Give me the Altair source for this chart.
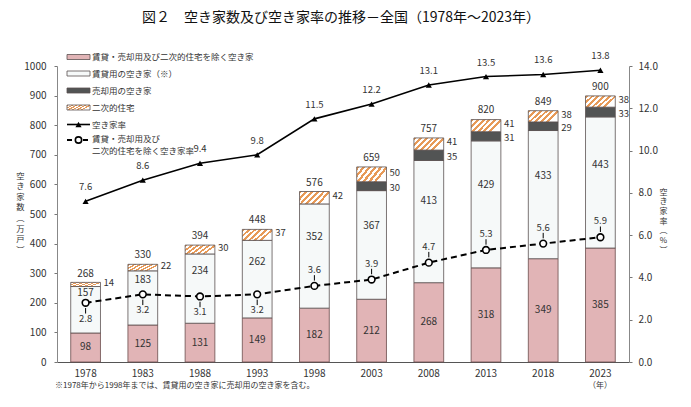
import altair as alt
import pandas as pd

# ---------------- data ----------------
years = ["1978", "1983", "1988", "1993", "1998", "2003", "2008", "2013", "2018", "2023"]
excl_homes = [98, 125, 131, 149, 182, 212, 268, 318, 349, 385]          # 賃貸・売却用及び二次的住宅を除く空き家
rental_homes = [157, 183, 234, 262, 352, 367, 413, 429, 433, 443]       # 賃貸用の空き家
sale_homes = [0, 0, 0, 0, 0, 30, 35, 31, 29, 33]                        # 売却用の空き家
second_homes = [14, 22, 30, 37, 42, 50, 41, 41, 38, 38]                 # 二次的住宅
total_homes = [268, 330, 394, 448, 576, 659, 757, 820, 849, 900]        # 空き家数 合計
vacancy_rate = [7.6, 8.6, 9.4, 9.8, 11.5, 12.2, 13.1, 13.5, 13.6, 13.8]  # 空き家率
excl_rate = [2.8, 3.2, 3.1, 3.2, 3.6, 3.9, 4.7, 5.3, 5.6, 5.9]          # 除く空き家率

legend_labels = [
    "賃貸・売却用及び二次的住宅を除く空き家",
    "賃貸用の空き家（※）",
    "売却用の空き家",
    "二次的住宅",
    "空き家率",
    ["賃貸・売却用及び", "二次的住宅を除く空き家率"],
]
title_text = "図２　空き家数及び空き家率の推移－全国（1978年～2023年）"
footnote_text = "※1978年から1998年までは、賃貸用の空き家に売却用の空き家を含む。"
year_unit = "（年）"
left_title = ["空", "き", "家", "数", "︵", "万", "戸", "︶"]
right_title = ["空", "き", "家", "率", "︵", "%", "︶"]

df = pd.DataFrame({
    "year": years, "excl": excl_homes, "rental": rental_homes, "sale": sale_homes,
    "second": second_homes, "total": total_homes, "rate": vacancy_rate, "erate": excl_rate,
})

# ---------------- styles ----------------
FONT = "Noto Sans CJK JP"
TXT = "#333333"
PINK = "#e1b4b6"
RENTAL = "#f6f9f9"
SALE = "#525454"
EDGE = "#5a5050"
W, H = 572, 296


def hatch(n=6, c="#e79a58"):
    stops = []
    for i in range(n):
        a, b, e = i / n, (i + 0.5) / n, (i + 1) / n
        stops += [{"offset": a, "color": c}, {"offset": b, "color": c},
                  {"offset": b, "color": "#ffffff"}, {"offset": e, "color": "#ffffff"}]
    return {"gradient": "linear", "x1": 0, "y1": 0, "x2": 1, "y2": 0.4, "stops": stops}


HATCH = hatch()

x_enc = alt.X(
    "year:N", sort=years,
    scale=alt.Scale(paddingInner=0.48, paddingOuter=0.24),
    axis=alt.Axis(title=None, labelAngle=0, labelFont=FONT, labelFontSize=10, labelColor=TXT,
                  ticks=False, domainColor="#555555", labelPadding=6),
)

yl_scale = alt.Scale(domain=[0, 1000], nice=False, zero=True)
yl_axis = alt.Axis(
    values=list(range(0, 1001, 100)), format="d", title=left_title, titleAngle=0, titleX=-37, titleY=110,
    titleAlign="center", titleBaseline="middle", titleLineHeight=10.6, titleFont=FONT,
    titleFontSize=8.3, titleFontWeight="normal", titleColor=TXT, labelFont=FONT, labelFontSize=10,
    labelColor=TXT, grid=False, tickSize=3, tickColor="#777777", domainColor="#888888",
    labelPadding=8,
)
yr_scale = alt.Scale(domain=[0, 14], nice=False, zero=True)
yr_axis = alt.Axis(
    orient="right", values=list(range(0, 15, 2)), format=".1f", title=right_title, titleAngle=0,
    titleX=34, titleY=126, titleAlign="center", titleBaseline="middle", titleLineHeight=9.7,
    titleFont=FONT, titleFontSize=8, titleFontWeight="normal", titleColor=TXT, labelFont=FONT,
    labelFontSize=10, labelColor=TXT, grid=False, tickSize=3, tickColor="#777777",
    domainColor="#888888", labelPadding=6,
)


def yl(field):
    return alt.Y(f"{field}:Q", scale=yl_scale, axis=yl_axis)


def yr(field):
    return alt.Y(f"{field}:Q", scale=yr_scale, axis=yr_axis)


base = alt.Chart(df).transform_calculate(
    zero="0",
    p_top="datum.excl",
    r_top="datum.excl + datum.rental",
    s_top="datum.excl + datum.rental + datum.sale",
    h_top="datum.excl + datum.rental + datum.sale + datum.second",
    p_mid="datum.excl / 2",
    r_lab="datum.erate / 14 * 1000 + 0.6 * (datum.excl + datum.rental - datum.erate / 14 * 1000)",
    s_mid="datum.excl + datum.rental + datum.sale / 2",
    h_mid="datum.excl + datum.rental + datum.sale + datum.second / 2",
    yr_num="toNumber(datum.year)",
)

bar_kw = dict(strokeWidth=0.8)
pink_bar = base.mark_bar(fill=PINK, stroke="#6b4d4d", **bar_kw).encode(x=x_enc, y=yl("p_top"), y2="zero:Q")
rental_bar = base.mark_bar(fill=RENTAL, stroke=EDGE, **bar_kw).encode(x=x_enc, y=yl("r_top"), y2="p_top:Q")
sale_bar = base.transform_filter("datum.sale > 0").mark_bar(fill=SALE, stroke=EDGE, **bar_kw).encode(
    x=x_enc, y=yl("s_top"), y2="r_top:Q")
hatch_bar = base.mark_bar(fill=HATCH, stroke=EDGE, **bar_kw).encode(x=x_enc, y=yl("h_top"), y2="s_top:Q")

txt_kw = dict(font=FONT, fontSize=10, color=TXT)
side_kw = dict(font=FONT, fontSize=9.5, color=TXT)
pink_txt = base.mark_text(**txt_kw).encode(x=x_enc, y=yl("p_mid"), text="excl:Q")
rental_txt = base.mark_text(**txt_kw).encode(x=x_enc, y=yl("r_lab"), text="rental:Q")
sale_txt = base.transform_filter("datum.sale > 0").mark_text(align="left", dx=18, dy=2, **side_kw).encode(
    x=x_enc, y=yl("s_mid"), text="sale:Q")
hatch_txt = base.mark_text(align="left", dx=18, dy=-1.5, **side_kw).encode(x=x_enc, y=yl("h_mid"), text="second:Q")
total_txt = base.mark_text(dy=-9, **txt_kw).encode(x=x_enc, y=yl("total"), text="total:Q")

left_layer = alt.layer(pink_bar, rental_bar, sale_bar, hatch_bar,
                       pink_txt, rental_txt, sale_txt, hatch_txt, total_txt)

rate_kw = dict(font=FONT, fontSize=9.5, color=TXT)
rate_line = base.mark_line(color="black", strokeWidth=1.6).encode(x=x_enc, y=yr("rate"))
rate_pts = base.mark_point(shape="triangle-up", filled=True, color="black", size=38, opacity=1).encode(
    x=x_enc, y=yr("rate"))
rate_txt = base.mark_text(dy=-14, **rate_kw).encode(x=x_enc, y=yr("rate"), text=alt.Text("rate:Q", format=".1f"))

erate_line = base.mark_line(color="black", strokeWidth=2, strokeDash=[6, 4]).encode(x=x_enc, y=yr("erate"))
erate_pts = base.mark_point(shape="circle", filled=True, fill="white", stroke="black", strokeWidth=1.6,
                            size=45, opacity=1).encode(x=x_enc, y=yr("erate"))
erate_txt_lo = base.transform_filter("datum.yr_num < 1998").mark_text(dy=16, **rate_kw).encode(
    x=x_enc, y=yr("erate"), text=alt.Text("erate:Q", format=".1f"))
erate_txt_hi = base.transform_filter("datum.yr_num >= 1998").mark_text(dy=-16, **rate_kw).encode(
    x=x_enc, y=yr("erate"), text=alt.Text("erate:Q", format=".1f"))
lead_lo = base.transform_filter("datum.yr_num < 1998").mark_point(
    shape="M0,-1L0,1", size=30, stroke="black", strokeWidth=1, yOffset=8, opacity=1).encode(
    x=x_enc, y=yr("erate"))
lead_hi = base.transform_filter("datum.yr_num >= 1998").mark_point(
    shape="M0,-1L0,1", size=30, stroke="black", strokeWidth=1, yOffset=-8, opacity=1).encode(
    x=x_enc, y=yr("erate"))

right_layer = alt.layer(erate_line, lead_lo, lead_hi, erate_pts, erate_txt_lo, erate_txt_hi,
                        rate_line, rate_pts, rate_txt)

# ---------------- legend (drawn manually) ----------------
one = pd.DataFrame({"k": [0]})
LX0, LX1, LTX = 10, 33, 35
rows = [-9, 7.5, 24.5, 41.5, 58.5, 74]
legend_layers = []
for i, fill in enumerate([PINK, RENTAL, SALE, HATCH]):
    legend_layers.append(
        alt.Chart(one).mark_rect(fill=fill, stroke=EDGE, strokeWidth=0.8).encode(
            x=alt.value(LX0), x2=alt.value(LX1), y=alt.value(rows[i] - 2.5), y2=alt.value(rows[i] + 2.5)))
legend_layers.append(alt.Chart(one).mark_rule(color="black", strokeWidth=1.6).encode(
    x=alt.value(LX0), x2=alt.value(LX1), y=alt.value(rows[4])))
legend_layers.append(alt.Chart(one).mark_point(shape="triangle-up", filled=True, color="black", size=38,
                                               opacity=1).encode(x=alt.value(21.5), y=alt.value(rows[4])))
legend_layers.append(alt.Chart(one).mark_rule(color="black", strokeWidth=2, strokeDash=[5, 3]).encode(
    x=alt.value(LX0), x2=alt.value(LX1), y=alt.value(rows[5])))
legend_layers.append(alt.Chart(one).mark_point(shape="circle", filled=True, fill="white", stroke="black",
                                               strokeWidth=1.6, size=40, opacity=1).encode(
    x=alt.value(21.5), y=alt.value(rows[5])))
leg_kw = dict(font=FONT, fontSize=8.5, color=TXT)
for i, lab in enumerate(legend_labels):
    legend_layers.append(
        alt.Chart(one).mark_text(text=lab, align="left", baseline="top" if isinstance(lab, list) else "middle",
                                 lineHeight=11.5, **leg_kw).encode(
            x=alt.value(LTX), y=alt.value(rows[i] - 5 if isinstance(lab, list) else rows[i])))

title_layer = alt.Chart(one).mark_text(text=title_text, font=FONT, fontSize=14, fontWeight="normal",
                                       color="#111111", align="center", baseline="middle").encode(
    x=alt.value(284), y=alt.value(-48))
foot_layer = alt.Chart(one).mark_text(text=footnote_text, font=FONT, fontSize=8, color=TXT, align="left",
                                      baseline="middle").encode(x=alt.value(-2), y=alt.value(320))
unit_layer = alt.Chart(one).mark_text(text=year_unit, font=FONT, fontSize=8, color=TXT, align="center",
                                      baseline="middle").encode(x=alt.value(543), y=alt.value(320))

chart = alt.layer(left_layer, right_layer, *legend_layers, title_layer, foot_layer, unit_layer).resolve_scale(
    y="independent"
).properties(
    width=W, height=H,
    autosize=alt.AutoSizeParams(type="none"),
    padding={"left": 57, "top": 66, "right": 62, "bottom": 45},
    background="white",
).configure_view(stroke=None)

chart.save("out.html", embed_options={"renderer": "svg", "actions": False})
